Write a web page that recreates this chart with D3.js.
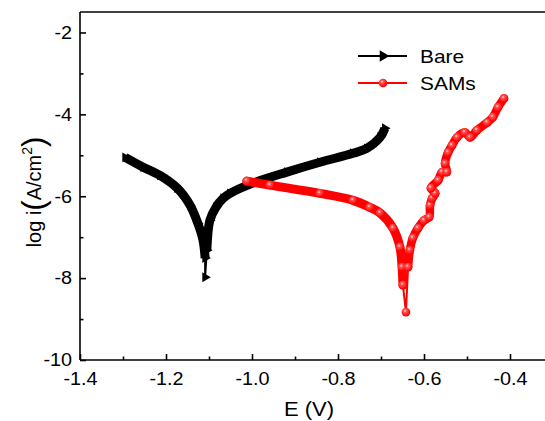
<!DOCTYPE html>
<html>
<head>
<meta charset="utf-8">
<script src="https://cdn.jsdelivr.net/npm/d3@7"></script>
<style>
  html, body { margin: 0; padding: 0; background: #fff; }
  svg { display: block; font-family: Arial, "Liberation Sans", sans-serif; }
</style>
</head>
<body>
<svg id="chart" width="545" height="421"></svg>
<script>
// Potentiodynamic polarization (Tafel) scans: E in volts, log of current density
const bareE = [-1.295, -1.253, -1.214, -1.174, -1.144, -1.126, -1.114, -1.109, -1.109,
               -1.105, -1.098, -1.084, -1.067, -1.051, -0.998, -0.919, -0.842, -0.765,
               -0.733, -0.702, -0.691];
const bareLogI = [-5.05, -5.29, -5.49, -5.80, -6.22, -6.66, -7.07, -7.51, -7.98,
                  -7.32, -6.59, -6.27, -6.05, -5.93, -5.68, -5.41, -5.17, -4.95,
                  -4.83, -4.56, -4.34];

const samsE = [-1.012, -0.958, -0.842, -0.765, -0.726, -0.702, -0.672, -0.656, -0.651,
               -0.649, -0.642, -0.637, -0.633, -0.626, -0.614, -0.600, -0.588, -0.586,
               -0.581, -0.574, -0.584, -0.567, -0.558, -0.547, -0.551, -0.544, -0.535,
               -0.523, -0.505, -0.493, -0.477, -0.453, -0.440, -0.428, -0.414];
const samsLogI = [-5.63, -5.73, -5.93, -6.10, -6.27, -6.41, -6.78, -7.24, -7.73,
                  -8.17, -8.83, -7.73, -7.32, -7.02, -6.78, -6.59, -6.51, -6.22,
                  -6.05, -5.93, -5.80, -5.61, -5.41, -5.41, -5.20, -4.93, -4.76,
                  -4.56, -4.44, -4.56, -4.39, -4.20, -4.07, -3.83, -3.61];

const seriesNames = ["Bare", "SAMs"];
const xMajorTicks = [-1.4, -1.2, -1.0, -0.8, -0.6, -0.4];
const xMinorTicks = [-1.3, -1.1, -0.9, -0.7, -0.5, -0.3];
const yMajorTicks = [-10, -8, -6, -4, -2];
const yMinorTicks = [-9, -7, -5, -3];

const svg = d3.select("#chart");
const mLeft = 80, mTop = 12, mBottom = 360;

const x = d3.scaleLinear().domain([-1.4, -0.3]).range([mLeft, mLeft + 1.1 * 430]);
const y = d3.scaleLinear().domain([-10, -1.5]).range([mBottom, mTop]);

// defs: shaded marker for the SAMs scan
const defs = svg.append("defs");
const grad = defs.append("radialGradient").attr("id", "redBall")
  .attr("cx", "40%").attr("cy", "35%").attr("r", "60%");
grad.append("stop").attr("offset", "0%").attr("stop-color", "#ffe6e6");
grad.append("stop").attr("offset", "30%").attr("stop-color", "#ff5050");
grad.append("stop").attr("offset", "100%").attr("stop-color", "#ff0000");

const clip = defs.append("clipPath").attr("id", "plotClip");
clip.append("rect").attr("x", mLeft).attr("y", mTop).attr("width", 545 - mLeft).attr("height", mBottom - mTop);

// data layers
const plot = svg.append("g").attr("clip-path", "url(#plotClip)");

const bare = bareE.map((e, i) => ({ e, v: bareLogI[i] }));
const sams = samsE.map((e, i) => ({ e, v: samsLogI[i] }));

const line = d3.line().x(d => x(d.e)).y(d => y(d.v)).curve(d3.curveCatmullRom.alpha(0.5));
const straight = d3.line().x(d => x(d.e)).y(d => y(d.v));

// Bare: dense run of right-pointing triangles, drawn as a heavy band with markers
plot.append("path").datum(bare.slice(0, 8))
  .attr("d", line).attr("fill", "none").attr("stroke", "#000")
  .attr("stroke-width", 9).attr("stroke-linejoin", "round");
plot.append("path").datum(bare.slice(9))
  .attr("d", line).attr("fill", "none").attr("stroke", "#000")
  .attr("stroke-width", 9).attr("stroke-linejoin", "round");
plot.append("path").datum(bare.slice(6, 10))
  .attr("d", straight)
  .attr("fill", "none").attr("stroke", "#000").attr("stroke-width", 2);
const tri = d3.symbol(d3.symbolTriangle, 42);
plot.selectAll(".bareMark").data(bare).join("path")
  .attr("class", "bareMark")
  .attr("d", tri)
  .attr("transform", d => `translate(${x(d.e)},${y(d.v)}) rotate(90)`)
  .attr("fill", "#000");

// SAMs: red line with shaded circle markers
plot.append("path").datum(sams.slice(0, 10))
  .attr("d", line).attr("fill", "none").attr("stroke", "#ff0000")
  .attr("stroke-width", 9).attr("stroke-linecap", "round").attr("stroke-linejoin", "round");
plot.append("path").datum(sams.slice(11))
  .attr("d", line).attr("fill", "none").attr("stroke", "#ff0000")
  .attr("stroke-width", 8.5).attr("stroke-linecap", "round").attr("stroke-linejoin", "round");
plot.append("path").datum(sams.slice(9, 12))
  .attr("d", straight)
  .attr("fill", "none").attr("stroke", "#ff0000").attr("stroke-width", 2);
plot.selectAll(".samsMark").data(sams).join("circle")
  .attr("class", "samsMark")
  .attr("cx", d => x(d.e)).attr("cy", d => y(d.v)).attr("r", 4.4)
  .attr("fill", "url(#redBall)");

// axes with inward ticks
const fmtX = d => d.toFixed(1);
const fmtY = d => String(d);

const xAxis = svg.append("g").attr("transform", `translate(0,${mBottom})`)
  .call(d3.axisBottom(x).tickValues(xMajorTicks).tickFormat(fmtX).tickSize(-6).tickSizeOuter(0).tickPadding(12));
const xMinor = svg.append("g").attr("transform", `translate(0,${mBottom})`)
  .call(d3.axisBottom(x).tickValues(xMinorTicks).tickFormat("").tickSize(-3.5).tickSizeOuter(0));
const yAxis = svg.append("g").attr("transform", `translate(${mLeft},0)`)
  .call(d3.axisLeft(y).tickValues(yMajorTicks).tickFormat(fmtY).tickSize(-6).tickSizeOuter(0).tickPadding(8));
const yMinor = svg.append("g").attr("transform", `translate(${mLeft},0)`)
  .call(d3.axisLeft(y).tickValues(yMinorTicks).tickFormat("").tickSize(-3.5).tickSizeOuter(0));

[xAxis, xMinor, yAxis, yMinor].forEach(g => {
  g.select(".domain").attr("stroke", "#000").attr("stroke-width", 1.6);
  g.selectAll(".tick line").attr("stroke", "#000").attr("stroke-width", 1.6);
  g.selectAll(".tick text").attr("fill", "#000").style("font-size", "18px")
    .style("font-family", "Arial, 'Liberation Sans', sans-serif");
});
xMinor.select(".domain").remove();
yMinor.select(".domain").remove();
xAxis.select(".domain").attr("d", `M${mLeft},0H545`);
yAxis.select(".domain").attr("d", `M0,${mBottom}V${mTop}`);

// top frame line
svg.append("line").attr("x1", mLeft).attr("x2", 545).attr("y1", mTop).attr("y2", mTop)
  .attr("stroke", "#000").attr("stroke-width", 1.6);

// axis titles
const xTitle = svg.append("text").attr("x", 309).attr("y", 416)
  .attr("text-anchor", "middle").style("font-size", "20px").text("E (V)");

const yTitle = svg.append("text")
  .attr("transform", `translate(41,192) rotate(-90)`)
  .attr("text-anchor", "middle").style("font-size", "20px");
yTitle.append("tspan").text("log i");
yTitle.append("tspan").style("font-size", "31px").attr("dy", 3).text("(");
yTitle.append("tspan").attr("dy", -3).text("A/cm");
yTitle.append("tspan").style("font-size", "14px").attr("dy", -9).text("2");
yTitle.append("tspan").style("font-size", "31px").attr("dy", 12).text(")");

// legend
const legend = svg.append("g").attr("transform", "translate(358,56)");
seriesNames.forEach((name, i) => {
  const g = legend.append("g").attr("transform", `translate(0,${i * 27})`);
  const color = i === 0 ? "#000" : "#ff0000";
  g.append("line").attr("x1", 0).attr("x2", 49).attr("y1", 0).attr("y2", 0)
    .attr("stroke", color).attr("stroke-width", 2);
  if (i === 0) {
    g.append("path").attr("d", d3.symbol(d3.symbolTriangle, 55))
      .attr("transform", "translate(25,0) rotate(90)").attr("fill", "#000");
  } else {
    g.append("circle").attr("cx", 25).attr("cy", 0).attr("r", 4.3).attr("fill", "url(#redBall)");
  }
  g.append("text").attr("class", "legendText").attr("x", 62).attr("y", 7)
    .style("font-size", "19px").text(name);
});

// slightly wide lettering for the horizontal labels
const widen = 1.1;
svg.selectAll(".tick text, .legendText").each(function () {
  const w = this.getComputedTextLength();
  if (w > 0) d3.select(this).attr("textLength", w * widen).attr("lengthAdjust", "spacingAndGlyphs");
});
xTitle.attr("textLength", xTitle.node().getComputedTextLength() * widen)
  .attr("lengthAdjust", "spacingAndGlyphs");
</script>
</body>
</html>
